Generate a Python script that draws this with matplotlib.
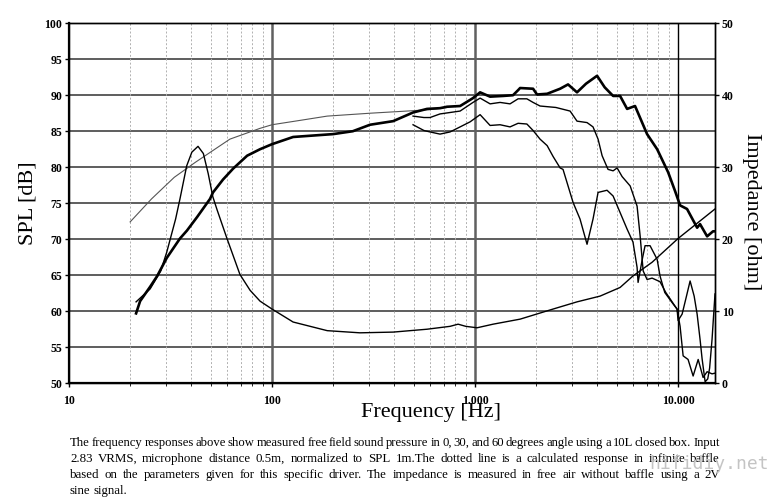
import numpy as np
import matplotlib
matplotlib.use('Agg')
import matplotlib.pyplot as plt
from matplotlib.ticker import FixedLocator, NullFormatter

# --- dati ---
# risposta in asse (0 gradi), linea spessa
f_0 = [21.4, 22.4, 25.1, 27.2, 30.3, 35.2, 38.1, 42.8, 49.5, 51.2, 57.4, 64.3, 75.4,
       87.3, 100, 127, 200, 250, 304, 395, 495, 580, 672, 728, 844, 977, 1059, 1186,
       1375, 1538, 1629, 1667, 1931, 2020, 2265, 2624, 2871, 3178, 3520, 3990, 4350,
       4786, 5180, 5610, 6138, 7035, 7887, 8933, 9661, 10230, 11070, 12410, 12830,
       13900, 14870, 15200]
spl_0 = [59.6, 61.3, 63.3, 64.8, 67.3, 70.0, 71.1, 73.0, 75.5, 76.4, 78.2, 79.7, 81.5,
         82.4, 83.1, 84.1, 84.5, 84.9, 85.8, 86.3, 87.5, 88.0, 88.1, 88.3, 88.4, 89.5, 90.3, 89.7,
         89.8, 89.9, 90.6, 90.9, 90.8, 90.0, 90.1, 90.8, 91.4, 90.3, 91.5, 92.6, 91.0,
         89.8, 89.8, 88.0, 88.4, 84.5, 82.4, 79.2, 76.6, 74.6, 74.1, 71.5, 72.0,
         70.3, 71.0, 71.0]

# 30 gradi
f_30 = [495, 560, 600, 672, 753, 844, 977, 1059, 1186, 1328, 1487, 1629, 1800, 1931,
        2090, 2500, 2938, 3178, 3561, 3811, 4036, 4225, 4518, 4786, 5010, 5300, 5808,
        6281, 6500, 6730, 7035, 7447, 8147, 8700, 9661, 9886, 10000, 10470, 11000,
        11460, 12000, 12410, 12830, 13130, 13590, 14000, 14300, 14700, 15200]
spl_30 = [87.0, 86.8, 86.8, 87.3, 87.5, 87.7, 88.9, 89.5, 88.7, 88.9, 88.7, 89.4, 89.4, 88.9,
          88.4, 88.2, 87.7, 86.3, 86.1, 85.5, 83.8, 81.5, 79.6, 79.4, 79.8, 78.6, 77.3,
          74.5, 70.4, 65.5, 64.3, 64.5, 64.0, 62.5, 60.6, 60.2, 58.6, 59.5, 62.0,
          64.1, 62.0, 59.5, 56.0, 53.3, 50.1, 50.5, 52.0, 56.0, 62.3]

# 60 gradi
f_60 = [495, 560, 600, 672, 753, 844, 945, 1059, 1186, 1328, 1487, 1629, 1800, 1931,
        2090, 2265, 2422, 2624, 2712, 3040, 3289, 3561, 3811, 4036, 4467, 4786,
        5610, 5997, 6281, 6353, 6650, 6877, 7278, 7887, 8147, 8600, 9400, 9886,
        10230, 10590, 11200, 11860, 12560, 13280, 13900, 14700, 15200]
spl_60 = [85.8, 85.0, 84.8, 84.5, 84.8, 85.5, 86.2, 87.2, 85.7, 85.8, 85.5, 86.0, 85.9, 85.0,
          83.8, 82.9, 81.4, 79.8, 79.6, 75.0, 72.7, 69.2, 72.7, 76.4, 76.7, 75.9,
          71.3, 69.5, 66.0, 63.9, 67.0, 69.0, 69.0, 67.1, 64.8, 62.5, 61.0, 60.2,
          57.8, 53.7, 53.2, 50.9, 53.2, 50.7, 51.5, 51.2, 51.3]

# risposta calcolata (linea sottile)
f_calc = [20.0, 25.5, 33.0, 42.0, 62.0, 87.3, 100, 137, 187, 304, 462, 600, 728]
spl_calc = [72.3, 75.5, 78.5, 80.6, 83.8, 85.3, 85.8, 86.4, 87.0, 87.4, 87.7, 87.9, 88.2]

# impedenza [ohm]
f_imp = [21.4, 25.1, 28.3, 30.3, 33.5, 35.2, 38.0, 40.3, 43.2, 45.9, 48.5, 51.1, 53.6,
         60.0, 69.5, 78.0, 87.3, 100, 127, 187, 271, 395, 580, 753, 825, 900, 1023,
         1227, 1667, 2422, 3178, 4129, 5180, 5997, 7447, 10000, 15200]
z_imp = [11.2, 13.0, 15.5, 18.1, 22.7, 25.5, 30.1, 32.0, 32.8, 31.8, 29.0, 25.8, 24.0,
         20.0, 15.0, 12.8, 11.3, 10.2, 8.4, 7.2, 6.9, 7.0, 7.4, 7.8, 8.1, 7.8, 7.6,
         8.1, 8.8, 10.2, 11.2, 12.0, 13.2, 14.8, 16.7, 20.0, 24.1]

x_ticks = [10, 100, 1000, 10000]
x_tick_labels = ['10', '100', '1.000', '10.000']
spl_ticks = list(range(50, 101, 5))
imp_ticks = list(range(0, 51, 10))

caption = [
    "The frequency responses above show measured free field sound pressure in 0, 30, and 60 degrees angle using a 10L closed box. Input",
    "2.83 VRMS, microphone distance 0.5m, normalized to SPL 1m.The dotted line is a calculated response in infinite baffle",
    "based on the parameters given for this specific driver. The impedance is measured in free air without baffle using a 2V",
    "sine signal.",
]

# --- figura ---
W, H = 778, 502
fig = plt.figure(figsize=(W / 100, H / 100), dpi=100)
ax = fig.add_axes([69 / W, 1 - 383.5 / H, (715 - 69) / W, (383.5 - 23.5) / H])
ax2 = ax.twinx()

ax.set_xscale('log')
ax.set_xlim(10, 15200)
ax.set_ylim(50, 100)
ax2.set_ylim(0, 50)

# griglia
for v in spl_ticks:
    ax.axhline(v, color='#505050', lw=1.3, zorder=1)
for d in [10, 100, 1000]:
    for k in range(2, 10):
        ax.axvline(d * k, color='#b0b0b0', lw=0.7, ls=(0, (2, 2)), zorder=1)
for d in [100, 1000]:
    ax.axvline(d, color='#606060', lw=1.8, zorder=1)
ax.axvline(10000, color='black', lw=1.0, zorder=1)

# curve
ax.plot(f_calc, spl_calc, color='#555555', lw=0.8, zorder=3)
ax.plot(f_60, spl_60, color='black', lw=1.0, zorder=3)
ax.plot(f_30, spl_30, color='black', lw=1.0, zorder=3)
ax.plot(f_0, spl_0, color='black', lw=1.9, zorder=4)
ax2.plot(f_imp, z_imp, color='black', lw=1.0, zorder=3)

# assi e tick
tick_font = dict(family='Liberation Serif', weight='bold', size=8.5)
ax.set_xticks(x_ticks)
ax.set_xticklabels(x_tick_labels, **tick_font)
ax.xaxis.set_minor_locator(FixedLocator([d * k for d in [10, 100, 1000] for k in range(2, 10)]))
ax.xaxis.set_minor_formatter(NullFormatter())
ax.set_yticks(spl_ticks)
ax.set_yticklabels([str(v) for v in spl_ticks], **tick_font)
ax2.set_yticks(imp_ticks)
ax2.set_yticklabels([str(v) for v in imp_ticks], **tick_font)
ax.tick_params(axis='both', which='major', length=3, width=1, pad=2, colors='black')
ax.tick_params(axis='x', which='minor', length=2, width=0.6)
ax.tick_params(axis='x', which='major', pad=5)
ax2.tick_params(axis='y', length=3, width=1, pad=2)
for a in (ax, ax2):
    for s in a.spines.values():
        s.set_color('black')
        s.set_linewidth(1.0)
ax.spines['left'].set_linewidth(1.6)
ax.spines['bottom'].set_linewidth(1.6)

label_font = dict(family='Liberation Serif', size=16)
fig.text(28 / W, 1 - 203 / H, 'SPL [dB]', rotation=90, ha='center', va='center', **label_font)
fig.text(752 / W, 1 - 212 / H, 'Impedance [ohm]', rotation=-90, ha='center', va='center', **label_font)
fig.text(431 / W, 1 - 413 / H, 'Frequency [Hz]', ha='center', va='center', **label_font)

# didascalia giustificata
fig.canvas.draw()
r = fig.canvas.get_renderer()
x0, x1 = 70, 720
for i, line in enumerate(caption):
    y = 1 - (443 + 16 * i) / H
    words = line.split()
    fs = 9.3
    while True:
        ts = [fig.text(0, y, w, family='Liberation Serif', size=fs, va='center') for w in words]
        ws = [t.get_window_extent(r).width for t in ts]
        if i == len(caption) - 1 or sum(ws) + 1.5 * (len(words) - 1) <= (x1 - x0):
            break
        for t in ts:
            t.remove()
        fs -= 0.2
    if i == len(caption) - 1:
        gap = ts[0].get_window_extent(r).height * 0.25
    else:
        gap = ((x1 - x0) - sum(ws)) / (len(words) - 1)
    x = x0
    for t, w in zip(ts, ws):
        t.set_x(x / W)
        x += w + gap

fig.text(709 / W, 1 - 464 / H, 'hifidiy.net', family='DejaVu Sans Mono', size=13,
         color='#c4c4c4', ha='center', va='center')

fig.savefig('out.png', dpi=100)
